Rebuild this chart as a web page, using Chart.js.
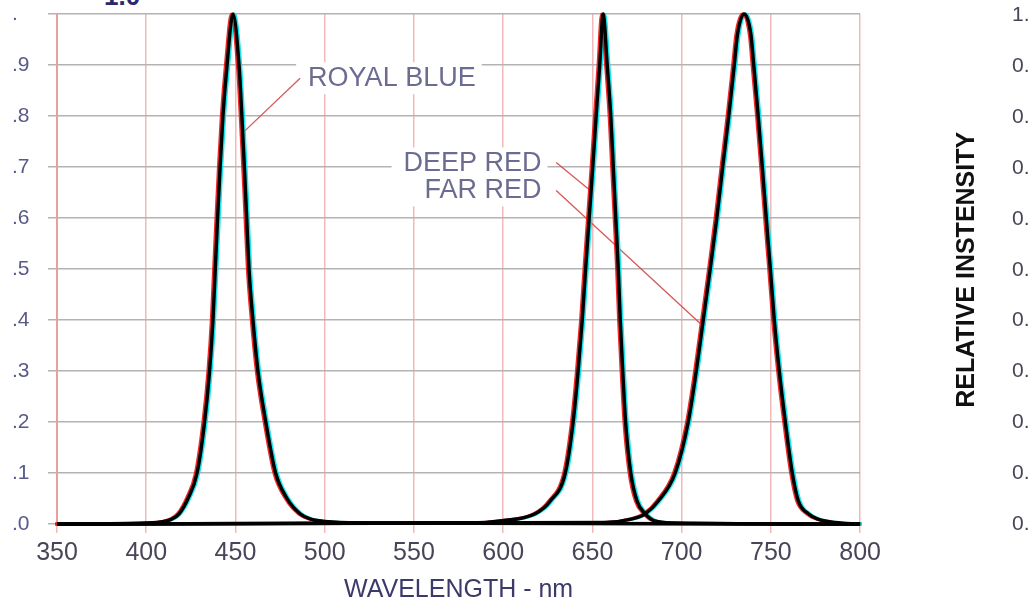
<!DOCTYPE html>
<html><head><meta charset="utf-8">
<script src="https://cdn.jsdelivr.net/npm/chart.js@4.4.0/dist/chart.umd.min.js"></script>
<style>
html,body{margin:0;padding:0;background:#fff;overflow:hidden;width:1030px;height:606px;position:relative;}
#main{position:absolute;left:0;top:0;}
#side{position:absolute;left:948px;top:0;}
#topcut{position:absolute;left:104px;top:-17px;font:bold 26px "Liberation Sans",Arial,sans-serif;line-height:26px;color:#2a2a6a;}
</style></head><body>
<div id="topcut">1.0</div>
<canvas id="main" width="886" height="606"></canvas>
<canvas id="side" width="300" height="606"></canvas>
<script>
// ---- data ----
const xTickValues = [350, 400, 450, 500, 550, 600, 650, 700, 750, 800];
const yTickLabels = ['.0', '.1', '.2', '.3', '.4', '.5', '.6', '.7', '.8', '.9', '.'];
const sideTickLabels = ['0.0', '0.1', '0.2', '0.3', '0.4', '0.5', '0.6', '0.7', '0.8', '0.9', '1.0'];
const seriesNames = ['ROYAL BLUE', 'DEEP RED', 'FAR RED'];

const blueWl = [350, 400, 410, 414.5, 418.4, 423.4, 428.5, 432.7, 435.5, 437.4, 438.7, 440.0, 441.4, 443.0, 445.3, 448.6, 452.0, 453.6, 455.0, 456.3, 457.6, 459.8, 462.6, 467.0, 472.5, 478.9, 486.2, 491.8, 500, 520, 800];
const blueVal = [0, 0.002, 0.005, 0.01, 0.02, 0.05, 0.1, 0.2, 0.3, 0.4, 0.5, 0.6, 0.7, 0.8, 0.9, 1.0, 0.9, 0.8, 0.7, 0.6, 0.5, 0.4, 0.3, 0.2, 0.1, 0.05, 0.02, 0.01, 0.005, 0.002, 0];

const redWl = [350, 581.5, 598.3, 617.9, 626.4, 634.8, 639.2, 642.0, 644.3, 646.2, 648.2, 650.2, 652.1, 654.1, 656.0, 658.3, 660.3, 661.7, 663.1, 664.5, 665.6, 667.0, 668.6, 671.5, 675.0, 679.6, 685.0, 695.3, 800];
const redVal = [0, 0.002, 0.006, 0.02, 0.045, 0.1, 0.2, 0.3, 0.4, 0.5, 0.6, 0.7, 0.8, 0.9, 1.0, 0.9, 0.8, 0.7, 0.6, 0.5, 0.4, 0.3, 0.2, 0.1, 0.045, 0.02, 0.006, 0.002, 0];

const farWl = [350, 657.2, 672.3, 679.6, 686.9, 696.4, 703.7, 708.2, 712.1, 716.0, 719.7, 723.0, 726.4, 729.5, 731.3, 735.0, 738.8, 740.4, 742.9, 745.2, 747.4, 749.7, 751.9, 754.7, 758.1, 762.0, 765.4, 771.0, 776.0, 786.1, 800];
const farVal = [0, 0.003, 0.01, 0.02, 0.045, 0.1, 0.2, 0.3, 0.4, 0.5, 0.6, 0.7, 0.8, 0.9, 0.96, 1.0, 0.96, 0.9, 0.8, 0.7, 0.6, 0.5, 0.4, 0.3, 0.2, 0.1, 0.045, 0.02, 0.01, 0.003, 0];

// callout labels (placement in data units)
const callouts = [
  {text: seriesNames[0], at: [490.7, 0.874], align: 'left',  from: [486.2, 0.874], to: [452.6, 0.762]},
  {text: seriesNames[1], at: [621.5, 0.707], align: 'right', from: [629.7, 0.709], to: [648.8, 0.654]},
  {text: seriesNames[2], at: [621.5, 0.654], align: 'right', from: [629.7, 0.654], to: [710.4, 0.393]}
];

const FONT = '"Liberation Sans", Arial, Helvetica, sans-serif';
const toPts = (wl, v) => wl.map((x, i) => ({x: x, y: v[i]}));
const series = [[blueWl, blueVal], [redWl, redVal], [farWl, farVal]];

const datasets = [];
// black lines first (drawn on top), then colour fringes
series.forEach((s, i) => datasets.push({label: seriesNames[i], data: toPts(s[0], s[1]), borderColor: '#000', borderWidth: 3.4, shiftX: 0}));
series.forEach((s, i) => datasets.push({label: seriesNames[i] + ' r', data: toPts(s[0], s[1]), borderColor: 'rgba(235,20,20,0.9)', borderWidth: 3, shiftX: -1.7}));
series.forEach((s, i) => datasets.push({label: seriesNames[i] + ' c', data: toPts(s[0], s[1]), borderColor: 'rgba(0,225,235,0.9)', borderWidth: 3, shiftX: 1.7}));
datasets.forEach(d => { d.pointRadius = 0; d.fill = false; d.cubicInterpolationMode = 'monotone'; d.clip = 8; });

const shiftPlugin = {
  id: 'shiftPlugin',
  beforeDatasetDraw(chart, args) {
    const dx = chart.data.datasets[args.index].shiftX || 0;
    chart.ctx.save(); chart.ctx.translate(dx, 0);
  },
  afterDatasetDraw(chart) { chart.ctx.restore(); }
};

const calloutPlugin = {
  id: 'calloutPlugin',
  beforeDatasetsDraw(chart) {
    const ctx = chart.ctx, xs = chart.scales.x, ys = chart.scales.y;
    ctx.save();
    ctx.font = '27px ' + FONT;
    ctx.textBaseline = 'middle';
    callouts.forEach(c => {
      const px = xs.getPixelForValue(c.at[0]), py = ys.getPixelForValue(c.at[1]);
      const w = ctx.measureText(c.text).width;
      const left = c.align === 'left' ? px : px - w;
      ctx.fillStyle = '#fff';
      ctx.fillRect(left - 12, py - 16, w + 18, 32);
    });
    callouts.forEach(c => {
      ctx.beginPath();
      ctx.moveTo(xs.getPixelForValue(c.from[0]), ys.getPixelForValue(c.from[1]));
      ctx.lineTo(xs.getPixelForValue(c.to[0]), ys.getPixelForValue(c.to[1]));
      ctx.strokeStyle = 'rgba(210,70,70,0.9)';
      ctx.lineWidth = 1.3;
      ctx.stroke();
    });
    callouts.forEach(c => {
      const px = xs.getPixelForValue(c.at[0]), py = ys.getPixelForValue(c.at[1]);
      ctx.textAlign = c.align;
      ctx.fillStyle = '#6c6c92';
      ctx.fillText(c.text, px, py);
    });
    ctx.restore();
  }
};

function xAxis(visible) {
  const col = visible ? '#4a4458' : 'rgba(0,0,0,0)';
  return {
    type: 'linear', min: 350, max: 800,
    afterBuildTicks: s => { s.ticks = xTickValues.map(v => ({value: v})); },
    ticks: {font: {family: FONT, size: 25}, color: col, padding: 5, maxRotation: 0, autoSkip: false},
    grid: {display: true, color: visible ? '#f1b9b9' : 'rgba(0,0,0,0)', lineWidth: 1.5, tickLength: 9},
    border: {display: visible, color: '#e6a0a0', width: 2},
    title: {display: true, text: 'WAVELENGTH - nm', font: {family: FONT, size: 25}, color: visible ? '#3c3a6a' : 'rgba(0,0,0,0)', padding: {top: 2, bottom: 6}}
  };
}

new Chart(document.getElementById('main'), {
  type: 'line',
  data: {datasets: datasets},
  options: {
    responsive: false, animation: false, parsing: true,
    layout: {padding: {left: 12, top: 14, right: 0, bottom: -5}},
    plugins: {legend: {display: false}, tooltip: {enabled: false}},
    scales: {
      x: xAxis(true),
      y: {
        min: 0, max: 1,
        afterFit: s => { s.width = 45; },
        ticks: {stepSize: 0.1, font: {family: FONT, size: 21}, color: '#5a5a8a', padding: 1, crossAlign: 'far',
                callback: (v, i) => yTickLabels[i]},
        grid: {color: '#b3b3b3', lineWidth: 1.5, tickLength: 9},
        border: {display: true, color: '#e6a0a0', width: 2}
      }
    }
  },
  plugins: [shiftPlugin, calloutPlugin]
});

new Chart(document.getElementById('side'), {
  type: 'line',
  data: {datasets: []},
  options: {
    responsive: false, animation: false,
    layout: {padding: {left: 0, top: -2, right: 0, bottom: -5}},
    plugins: {legend: {display: false}, tooltip: {enabled: false}},
    scales: {
      x: xAxis(false),
      y: {
        min: 0, max: 1,
        ticks: {stepSize: 0.1, font: {family: FONT, size: 21}, color: '#4a4458', padding: 3,
                callback: (v, i) => sideTickLabels[i]},
        grid: {display: false},
        border: {display: false},
        title: {display: true, text: 'RELATIVE INSTENSITY', font: {family: FONT, size: 25, weight: 'bold'}, color: '#111', padding: {top: 4, bottom: 27}}
      }
    }
  }
});
</script>
</body></html>
